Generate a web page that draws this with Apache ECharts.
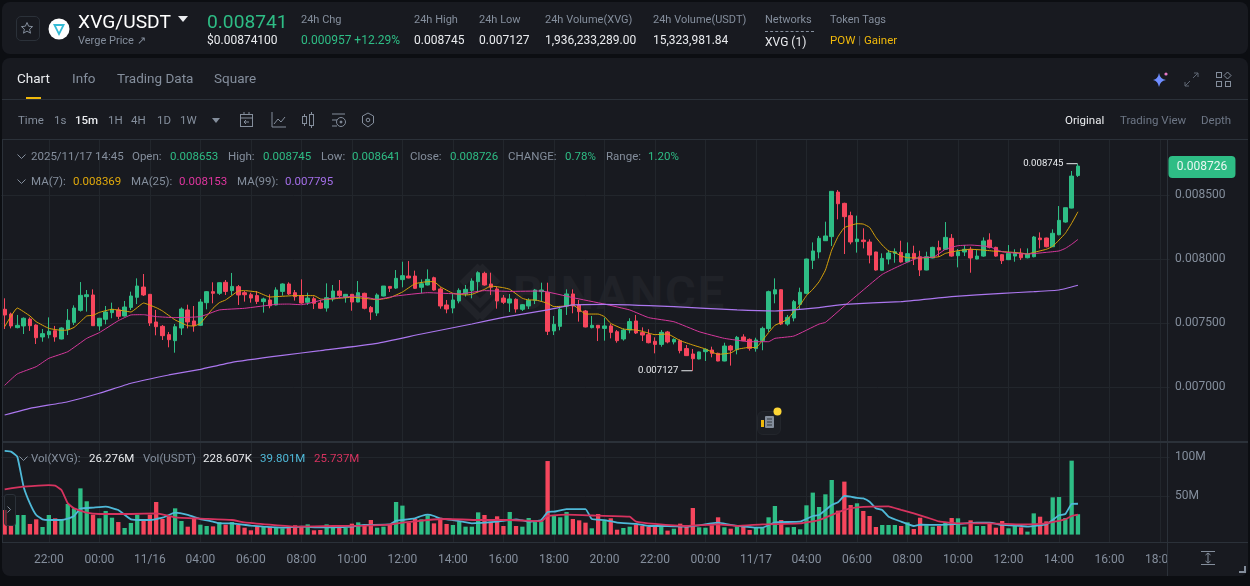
<!DOCTYPE html>
<html lang="en">
<head>
<meta charset="UTF-8">
<title>XVG/USDT</title>
<script src="https://cdn.jsdelivr.net/npm/echarts@6/dist/echarts.min.js"></script>
<style>
    html, body { margin: 0; padding: 0; width: 1250px; height: 586px; overflow: hidden; background: #0c0e12; font-family: Roboto, sans-serif; }
    .panel { position: absolute; background: #181a20; border-radius: 8px; }
    #main { position: absolute; left: 0; top: 0; width: 1250px; height: 586px; }
    .t { position: absolute; white-space: nowrap; transform: translateY(-50%); font-size: 12px; color: #eaecef; }
    .g { color: #848e9c; }
    .s { font-size: 11.5px; color: #5e6673; }
    .up { color: #2ebd85; }
    .tab { font-size: 13.5px; color: #848e9c; }
    .line { position: absolute; background: #2b3139; }
    svg { position: absolute; overflow: visible; }
</style>
</head>
<body>
<div class="panel" style="left:2px;top:2px;width:1246px;height:52px"></div>
<div class="panel" style="left:2px;top:58px;width:1246px;height:518px"></div>

<!-- watermark sits under the chart canvas -->
<svg style="left:450px;top:262px" width="60" height="60"><g fill="none" stroke="#212329" stroke-width="7"><path d="M30 4 L48 22 M30 4 L12 22 M4 30 L12 38 M56 30 L48 38 M30 56 L12 38 M30 56 L48 38"/><rect x="22" y="22" width="16" height="16" transform="rotate(45 30 30)"/></g></svg>
<div class="t" style="left:513px;top:292px;font-size:47px;font-weight:700;letter-spacing:2px;color:#202228">BINANCE</div>

<div id="main"></div>

<!-- header -->
<div style="position:absolute;left:16px;top:16px;width:22px;height:23px;border:1px solid #2b3139;border-radius:5px"></div>
<svg style="left:21px;top:22px" width="12" height="12"><path d="M6 0.5 L7.6 4.2 L11.6 4.6 L8.6 7.2 L9.5 11.2 L6 9.1 L2.5 11.2 L3.4 7.2 L0.4 4.6 L4.4 4.2 Z" fill="none" stroke="#848e9c"/></svg>
<svg style="left:48px;top:18px" width="22" height="22"><circle cx="11" cy="11" r="10.5" fill="#fff"/><path d="M5 6 H17 L11 18 Z M8 8 L11 14 L14 8 Z" fill="#35bcd6" fill-rule="evenodd"/></svg>
<div class="t" style="left:78px;top:21px;font-size:19.2px;color:#fff">XVG/USDT</div>
<svg style="left:178px;top:16px" width="10" height="6"><path d="M0 0 H10 L5 6 Z" fill="#eaecef"/></svg>
<div class="t g" style="left:78px;top:40px;font-size:11px">Verge Price ↗</div>
<div class="t up" style="left:207px;top:21px;font-size:19.2px">0.008741</div>
<div class="t" style="left:207px;top:40px">$0.00874100</div>
<div class="t s" style="left:301px;top:19px;color:#848e9c;font-size:11px">24h Chg</div>
<div class="t up" style="left:301px;top:40px">0.000957 +12.29%</div>
<div class="t s" style="left:414px;top:19px;color:#848e9c;font-size:11px">24h High</div>
<div class="t" style="left:414px;top:40px">0.008745</div>
<div class="t s" style="left:479px;top:19px;color:#848e9c;font-size:11px">24h Low</div>
<div class="t" style="left:479px;top:40px">0.007127</div>
<div class="t s" style="left:545px;top:19px;color:#848e9c;font-size:11px">24h Volume(XVG)</div>
<div class="t" style="left:545px;top:40px">1,936,233,289.00</div>
<div class="t s" style="left:653px;top:19px;color:#848e9c;font-size:11px">24h Volume(USDT)</div>
<div class="t" style="left:653px;top:40px">15,323,981.84</div>
<div class="t s" style="left:765px;top:19px;color:#848e9c;font-size:11px">Networks</div>
<div style="position:absolute;left:765px;top:31px;width:49px;border-top:1px dashed #848e9c"></div>
<div class="t" style="left:765px;top:42px">XVG (1)</div>
<div class="t s" style="left:830px;top:19px;color:#848e9c;font-size:11px">Token Tags</div>
<div class="t" style="left:830px;top:40px;color:#f0b90b;font-size:11.5px">POW <span style="color:#5e6673">|</span> Gainer</div>

<!-- tabs -->
<div class="t tab" style="left:17px;top:78px;color:#eaecef">Chart</div>
<div class="t tab" style="left:72px;top:78px">Info</div>
<div class="t tab" style="left:117px;top:78px">Trading Data</div>
<div class="t tab" style="left:214px;top:78px">Square</div>
<div style="position:absolute;left:26px;top:97px;width:15px;height:2px;background:#f0b90b"></div>
<div class="line" style="left:2px;top:99px;width:1246px;height:1px"></div>
<svg style="left:1153px;top:71px" width="16" height="16"><path d="M6 2 Q7 8 13 9 Q7 10 6 16 Q5 10 0 9 Q5 8 6 2 Z" fill="#6f8dff"/><circle cx="13" cy="3" r="1.6" fill="#e879c6"/></svg>
<svg style="left:1185px;top:73px" width="13" height="13"><path d="M8 5 L13 0 M9 0 H13 V4 M5 8 L0 13 M0 9 V13 H4" fill="none" stroke="#5e6673"/></svg>
<svg style="left:1216px;top:72px" width="15" height="15"><g fill="none" stroke="#848e9c"><rect x="0.5" y="0.5" width="5" height="5"/><path d="M11.5 0 L15 3.5 L11.5 7 L8 3.5 Z"/><rect x="0.5" y="9.5" width="5" height="5"/><rect x="9.5" y="9.5" width="5" height="5"/></g></svg>

<!-- toolbar -->
<div class="t g" style="left:18px;top:120px;font-size:11.5px">Time</div>
<div class="t g" style="left:54px;top:120px;font-size:11.5px">1s</div>
<div class="t" style="left:75px;top:120px;font-size:11.5px;font-weight:500">15m</div>
<div class="t g" style="left:108px;top:120px;font-size:11.5px">1H</div>
<div class="t g" style="left:131px;top:120px;font-size:11.5px">4H</div>
<div class="t g" style="left:157px;top:120px;font-size:11.5px">1D</div>
<div class="t g" style="left:180px;top:120px;font-size:11.5px">1W</div>
<svg style="left:212px;top:118px" width="8" height="5"><path d="M0 0 H8 L4 5 Z" fill="#848e9c"/></svg>
<svg style="left:240px;top:112px" width="145" height="16"><g fill="none" stroke="#848e9c"><rect x="0.5" y="2.5" width="12" height="12"/><path d="M0 6 H13 M4 0 V3 M9 0 V3 M9 10 H4 L6 8 M4 10 L6 12"/><path d="M32 0 V15 H46 M34 12 L38 7 L41 10 L45 5"/><rect x="62.5" y="4.5" width="4" height="7"/><rect x="69.5" y="2.5" width="4" height="11"/><path d="M64.5 2 V4 M64.5 12 V14 M71.5 0 V2 M71.5 14 V16"/><path d="M92 2 H105 M92 8 H97 M92 14 H97"/><circle cx="101" cy="10" r="4.5"/><circle cx="101" cy="10" r="1" fill="#848e9c"/><path d="M128 1 L133.5 4 V11 L128 15 L122.5 11 V4 Z"/><circle cx="128" cy="8" r="1.8"/></g></svg>
<div class="t" style="left:1065px;top:120px;font-size:11.5px">Original</div>
<div class="t s" style="left:1120px;top:120px;color:#6d7685">Trading View</div>
<div class="t s" style="left:1201px;top:120px;color:#6d7685">Depth</div>
<div class="line" style="left:2px;top:139px;width:1246px;height:1px"></div>

<!-- legends -->
<svg style="left:17px;top:154px" width="9" height="5"><path d="M0.5 0.5 L4.5 4.5 L8.5 0.5" fill="none" stroke="#848e9c"/></svg>
<div class="t g" style="left:31px;top:156px;font-size:11.5px">2025/11/17 14:45</div>
<div class="t g" style="left:132px;top:156px;font-size:11.5px">Open:</div>
<div class="t up" style="left:170px;top:156px;font-size:11.5px">0.008653</div>
<div class="t g" style="left:228px;top:156px;font-size:11.5px">High:</div>
<div class="t up" style="left:263px;top:156px;font-size:11.5px">0.008745</div>
<div class="t g" style="left:321px;top:156px;font-size:11.5px">Low:</div>
<div class="t up" style="left:352px;top:156px;font-size:11.5px">0.008641</div>
<div class="t g" style="left:410px;top:156px;font-size:11.5px">Close:</div>
<div class="t up" style="left:450px;top:156px;font-size:11.5px">0.008726</div>
<div class="t g" style="left:508px;top:156px;font-size:11.5px">CHANGE:</div>
<div class="t up" style="left:565px;top:156px;font-size:11.5px">0.78%</div>
<div class="t g" style="left:606px;top:156px;font-size:11.5px">Range:</div>
<div class="t up" style="left:648px;top:156px;font-size:11.5px">1.20%</div>
<svg style="left:17px;top:179px" width="9" height="5"><path d="M0.5 0.5 L4.5 4.5 L8.5 0.5" fill="none" stroke="#848e9c"/></svg>
<div class="t g" style="left:31px;top:181px;font-size:11.5px">MA(7):</div>
<div class="t" style="left:73px;top:181px;font-size:11.5px;color:#e0a90c">0.008369</div>
<div class="t g" style="left:131px;top:181px;font-size:11.5px">MA(25):</div>
<div class="t" style="left:179px;top:181px;font-size:11.5px;color:#e0359f">0.008153</div>
<div class="t g" style="left:237px;top:181px;font-size:11.5px">MA(99):</div>
<div class="t" style="left:285px;top:181px;font-size:11.5px;color:#a36ee8">0.007795</div>
<svg style="left:19px;top:456px" width="9" height="5"><path d="M0.5 0.5 L4.5 4.5 L8.5 0.5" fill="none" stroke="#848e9c"/></svg>
<div class="t g" style="left:31px;top:458px;font-size:11.5px">Vol(XVG):</div>
<div class="t" style="left:89px;top:458px;font-size:11.5px">26.276M</div>
<div class="t g" style="left:143px;top:458px;font-size:11.5px">Vol(USDT)</div>
<div class="t" style="left:203px;top:458px;font-size:11.5px">228.607K</div>
<div class="t" style="left:260px;top:458px;font-size:11.5px;color:#4fb9d8">39.801M</div>
<div class="t" style="left:314px;top:458px;font-size:11.5px;color:#d6335f">25.737M</div>

<!-- pane frames and small widgets -->
<div class="line" style="left:2px;top:140px;width:1px;height:403px"></div>
<div class="line" style="left:2px;top:441px;width:1246px;height:2px"></div>
<div class="line" style="left:2px;top:542px;width:1246px;height:1px"></div>
<div style="position:absolute;left:1168px;top:543px;width:80px;height:33px;background:#181a20;border-radius:0 0 8px 0"></div>
<div class="line" style="left:1167px;top:140px;width:1px;height:436px"></div>
<div style="position:absolute;left:4px;top:494px;width:10px;height:30px;border:1px solid #2b3139;border-radius:3px;background:rgba(24,26,32,.6)"></div>
<svg style="left:7px;top:506px" width="4" height="7"><path d="M0.5 0.5 L3.5 3.5 L0.5 6.5" fill="none" stroke="#848e9c"/></svg>
<svg style="left:1201px;top:551px" width="14" height="14"><path d="M0 0.5 H14 M0 13.5 H14 M7 2 V12 M4.5 4 L7 2 L9.5 4 M4.5 10 L7 12 L9.5 10" fill="none" stroke="#848e9c"/></svg>
<svg style="left:1238px;top:565px" width="8" height="8"><path d="M7 1 V7 H1" fill="none" stroke="#848e9c" stroke-width="2"/></svg>
<div style="position:absolute;left:757px;top:411px;width:22px;height:22px;border-radius:6px;border:1px solid #23262c;background:#1c1f25"></div>
<svg style="left:761px;top:415px" width="14" height="14"><rect x="4" y="1" width="9" height="12" rx="1" fill="#848e9c"/><path d="M6 4 H11 M6 7 H11 M6 10 H11" stroke="#33383f"/><rect x="0" y="5" width="3" height="7" fill="#f0b90b"/></svg>
<svg style="left:773px;top:407px" width="9" height="9"><circle cx="4.5" cy="4.5" r="4" fill="#fcd535"/></svg>

<script>
    // candles, 15m bars from 11/15 20:15 to 11/17 14:45, prices in millionths of a USDT
    const opens = [
        7607,7570,7464,7477,7531,7484,7391,7409,7440,7375,
        7451,7505,7599,7706,7719,7477,7529,7581,7602,7555,
        7622,7701,7781,7724,7508,7474,7409,7362,7461,7602,
        7516,7482,7659,7745,7732,7818,7753,7784,7737,7721,
        7714,7667,7680,7641,7747,7805,7737,7714,7662,7690,
        7656,7617,7688,7750,7701,7724,7664,7732,7622,7578,
        7711,7786,7773,7839,7867,7867,7779,7797,7854,7766,
        7641,7617,7672,7727,7755,7823,7888,7805,7766,7695,
        7656,7685,7607,7633,7677,7745,7740,7438,7474,7633,
        7727,7641,7594,7464,7482,7458,7477,7432,7375,7445,
        7516,7425,7409,7357,7333,7430,7352,7362,7300,7258,
        7219,7276,7289,7263,7203,7320,7292,7391,7372,7300,
        7362,7456,7727,7760,7492,7539,7646,7732,7990,8055,
        8143,8175,8523,8435,8339,8136,8148,8133,8055,7912,
        8000,8044,8052,7979,8044,8018,7914,8008,8089,8076,
        8162,8026,8055,8076,8000,8023,8148,8091,8034,7995,
        8023,8044,8010,8018,8164,8164,8096,8190,8289,8398,
        8653
    ];
    const highs = [
        7693,7581,7563,7544,7544,7490,7453,7544,7477,7466,
        7609,7638,7820,7758,7763,7537,7633,7659,7622,7672,
        7745,7849,7883,7727,7602,7484,7430,7492,7622,7643,
        7633,7688,7750,7818,7818,7836,7891,7797,7750,7737,
        7750,7698,7724,7779,7810,7818,7758,7841,7737,7706,
        7680,7810,7797,7836,7727,7727,7828,7737,7633,7732,
        7789,7789,7914,7979,7984,7909,7841,7919,7862,7779,
        7680,7732,7771,7797,7849,7904,7901,7893,7784,7719,
        7727,7693,7648,7693,7766,7815,7815,7555,7628,7763,
        7763,7680,7602,7555,7484,7542,7492,7445,7458,7537,
        7563,7466,7451,7388,7445,7438,7380,7372,7328,7297,
        7276,7302,7315,7268,7346,7328,7399,7412,7380,7385,
        7471,7753,7849,7763,7563,7680,7776,8003,8130,8180,
        8292,8531,8539,8440,8370,8339,8240,8154,8057,8044,
        8070,8083,8143,8130,8104,8065,8057,8096,8143,8289,
        8195,8078,8109,8096,8070,8169,8201,8096,8039,8109,
        8076,8083,8083,8180,8208,8167,8232,8414,8401,8688,
        8745
    ];
    const lows = [
        7453,7458,7458,7414,7438,7336,7354,7380,7354,7372,
        7406,7484,7589,7589,7477,7440,7490,7537,7529,7550,
        7602,7648,7711,7477,7404,7367,7310,7268,7406,7458,
        7432,7477,7607,7654,7719,7719,7719,7641,7667,7659,
        7648,7581,7615,7638,7714,7719,7675,7651,7641,7609,
        7609,7589,7669,7693,7659,7596,7662,7607,7524,7555,
        7708,7742,7766,7779,7849,7766,7732,7794,7753,7612,
        7576,7576,7654,7706,7693,7745,7792,7719,7612,7648,
        7586,7581,7594,7609,7648,7667,7406,7406,7443,7563,
        7576,7511,7466,7458,7359,7362,7380,7346,7362,7419,
        7414,7359,7341,7263,7315,7341,7333,7263,7242,7127,
        7216,7203,7232,7201,7201,7167,7255,7362,7284,7276,
        7287,7430,7654,7484,7479,7513,7602,7724,7922,8005,
        8141,8102,8310,8039,8115,8050,8083,7966,7909,7909,
        7958,7971,7971,7974,7953,7867,7912,8005,8018,8070,
        8018,7935,8023,7893,7997,8018,8083,8018,7961,7992,
        7979,7992,8005,8013,8083,8091,8094,8185,8284,8396,
        8641
    ];
    const closes = [
        7563,7477,7482,7537,7479,7385,7417,7435,7391,7461,
        7521,7617,7716,7721,7479,7537,7586,7607,7552,7625,
        7711,7789,7719,7500,7471,7401,7370,7471,7609,7508,
        7479,7664,7745,7732,7815,7747,7786,7719,7721,7695,
        7669,7688,7635,7758,7805,7727,7706,7656,7695,7654,
        7615,7698,7750,7714,7724,7664,7737,7615,7586,7719,
        7789,7771,7849,7870,7852,7771,7807,7841,7758,7633,
        7609,7680,7755,7763,7828,7893,7797,7779,7672,7662,
        7688,7609,7643,7677,7758,7758,7435,7490,7607,7727,
        7633,7589,7469,7482,7461,7477,7427,7362,7445,7511,
        7422,7406,7346,7333,7427,7352,7372,7284,7245,7221,
        7274,7294,7263,7203,7320,7289,7388,7362,7302,7367,
        7458,7745,7760,7492,7544,7667,7740,8000,8063,8162,
        8180,8529,8432,8331,8133,8156,8136,8031,7914,8005,
        8047,8057,7977,8042,8003,7914,8018,8091,8070,8169,
        8023,8057,8076,8008,8023,8141,8091,8023,7987,8044,
        8044,8010,8039,8172,8151,8096,8201,8302,8401,8648,
        8726
    ];
    // volume in millions of XVG
    const volumes = [
        31.7,11.5,25.3,25.3,13.7,19.7,9.8,25.3,21,18.8,
        39.5,33.9,59.7,43,25.7,21,30.5,21.8,16.2,8.5,
        15,25.7,18.8,25.7,42.1,20.1,23.6,33.9,17.5,10.2,
        21.8,12.8,11.1,10.6,16.2,12.8,16.2,12.4,8.9,5.5,
        10.6,11.1,10.2,8.9,8.1,9.4,12,10.2,13.2,5.5,
        5.9,13.2,9.4,12,8.9,14.1,15.8,12.8,18.8,8.9,
        10.2,13.2,42.1,37.4,15.4,20.1,19.7,24.9,14.5,21.8,
        13.7,12.4,17.1,10.2,10.2,28.7,25.3,16.7,23.6,11.1,
        29.2,11.1,10.2,21.4,16.2,17.1,95,24,22.3,29.2,
        20.1,18.4,15.4,8.1,26.6,17.5,21,6.3,8.5,10.2,
        12.8,11.1,10.2,11.1,10.2,5.1,7.6,14.1,10.2,34.3,
        9.4,8.9,12,22.3,9.4,7.6,10.6,9.8,5.9,9.8,
        8.5,22.3,36.9,18.8,9.4,9.8,6.8,37.8,54.2,35.6,
        52,70.5,30.9,68.4,38.2,40.4,30.5,24,9.8,12.4,
        12.4,12.4,11.1,15.8,7.2,21.8,12,10.2,11.1,16.2,
        21.4,21,10.2,18.4,11.1,11.1,13.7,8.9,17.5,8.1,
        11.1,9.4,3.8,27.4,23.1,17.1,48.1,48.5,21.4,95.5,
        26.276
    ];

    // moving average lines, read at the bar positions in the *Bars arrays
    const ma7Bars = [0,2,4,5,7,9,10,11,12,13,14,15,17,19,20,22,24,25,27,29,30,31,33,34,35,37,38,40,42,43,46,49,50,51,53,55,57,59,61,63,65,67,68,69,71,73,74,76,77,79,80,82,83,84,86,87,89,90,91,92,94,95,96,98,100,101,103,105,107,109,111,113,115,116,118,119,120,121,122,123,124,125,126,127,128,129,130,131,132,133,134,135,136,137,138,139,140,141,142,143,145,147,148,149,151,153,155,157,159,161,162,163,165,166,167,168,169,170];
    const ma7 = [7471,7617,7555,7510,7458,7443,7445,7466,7510,7555,7560,7583,7607,7594,7586,7656,7620,7594,7524,7479,7477,7497,7615,7659,7680,7750,7753,7742,7703,7706,7714,7714,7688,7685,7693,7701,7693,7682,7698,7742,7807,7823,7823,7784,7732,7719,7724,7763,7789,7776,7763,7693,7680,7680,7654,7628,7633,7641,7607,7570,7570,7550,7497,7453,7445,7435,7409,7414,7362,7328,7297,7255,7266,7294,7310,7307,7362,7425,7482,7503,7529,7589,7641,7714,7763,7823,7914,8070,8175,8245,8263,8276,8273,8247,8169,8109,8063,8052,8023,8010,8008,8013,8018,8044,8065,8076,8070,8060,8055,8047,8039,8052,8076,8099,8148,8201,8279,8369];
    const ma25Bars = [0,2,5,7,10,13,15,18,20,22,24,27,31,34,38,43,45,47,51,56,59,62,67,72,76,80,85,90,95,99,102,106,110,114,118,121,122,125,129,130,133,136,139,142,145,147,149,151,153,156,158,162,165,167,168,169,170];
    const ma25 = [7013,7102,7159,7224,7276,7380,7425,7518,7563,7565,7550,7542,7550,7602,7615,7646,7648,7643,7688,7711,7685,7711,7737,7727,7753,7747,7750,7698,7648,7602,7542,7510,7432,7380,7354,7354,7380,7398,7492,7505,7633,7758,7880,7953,8013,8013,8076,8104,8109,8096,8057,8039,8052,8063,8083,8115,8153];
    const ma99Bars = [0,4,10,15,20,26,31,36,44,50,59,66,74,79,86,90,95,106,116,122,129,133,142,150,158,163,167,170];
    const ma99 = [6781,6833,6885,6951,7029,7094,7138,7193,7247,7284,7341,7414,7492,7544,7602,7641,7646,7628,7602,7594,7620,7646,7667,7706,7732,7745,7758,7795];

    const volFastBars = [0,1,2,3,4,5,6,7,9,10,11,12,14,16,18,20,22,23,25,27,29,31,33,34,36,39,41,44,47,50,52,55,57,61,62,63,65,66,67,68,69,71,74,78,81,83,85,86,87,89,92,93,95,97,100,102,105,108,110,113,115,119,120,122,126,128,129,131,132,133,134,135,136,137,138,139,140,142,144,145,148,151,154,156,158,161,162,165,166,167,168,169,170];
    const volFast = [108,107.1,100.7,61.9,40.4,25.3,19.7,18.8,18.8,20.6,24,33.5,34.8,36.1,31.8,19.7,18.8,18.8,21.8,28.3,25.3,20.1,16.7,14.5,14.5,11.5,10.2,8.9,10.2,9.4,9.4,10.2,12.4,13.2,18,18.8,21,24,25.7,24,20.6,18.8,14.5,16.7,19.7,16.7,18.8,29.2,29.6,33,33,20.1,18.8,15.4,13.7,11.1,11.1,10.2,12,15.4,12.4,8.9,8.9,15.8,16.7,24,25.3,38.2,41.7,49.8,49,47.3,46.8,42.5,33.9,31.8,23.1,16.7,11.1,12.8,12.4,13.7,15.4,15.4,12.4,11.1,10.2,13.2,18.8,24.9,26.6,39.5,39.801];
    const volSlowBars = [0,3,7,8,9,10,11,13,15,20,24,27,31,36,38,42,46,52,57,61,63,67,70,75,80,85,86,89,94,99,100,103,108,113,116,120,126,129,131,133,135,140,142,144,146,148,151,156,161,165,168,169,170];
    const volSlow = [58.5,61.9,64,63.2,57.6,40.4,33.9,28.3,26.6,26.6,27.4,22.3,20.6,18.8,15.8,12.8,10.2,11.1,11.5,12.8,15.4,18.8,20.1,18.8,18.8,17.1,24,25.7,24.4,23.1,16.7,13.7,11.1,13.2,11.1,13.2,14.5,18.8,25.3,31.8,35.2,36.5,31.8,27.4,22.3,16.9,14.5,14.5,13.2,14.5,19.7,24,25.737];

    // x axis labels every 2 hours, first one on bar 7, and the blank bars after the last candle
    const tickLabels = ['22:00','00:00','11/16','04:00','06:00','08:00','10:00','12:00','14:00','16:00','18:00','20:00','22:00','00:00','11/17','04:00','06:00','08:00','10:00','12:00','14:00','16:00','18:00'];
    const firstTickBar = 7, barsPerTick = 8, barCount = 185;
    const priceTicks = [7000, 7500, 8000, 8500];
    const volumeTicks = [50, 100];

    const GREEN = '#2ebd85', RED = '#f6465d', GREY = '#848e9c', GRID = '#22262c';
    const isTick = i => i >= firstTickBar && (i - firstTickBar) % barsPerTick === 0;
    const categories = [];
    for (let i = 0; i < barCount; i++) {
        categories.push(isTick(i) ? tickLabels[(i - firstTickBar) / barsPerTick] : '');
    }
    const formatPrice = v => (v / 1e6).toFixed(6);
    const pairs = (bars, vals) => bars.map((b, k) => [b, vals[k]]);

    function xAxis(gridIndex, withLabels) {
        return {
            type: 'category', gridIndex: gridIndex, data: categories,
            axisLine: { show: false }, axisTick: { show: false },
            axisLabel: { show: withLabels, interval: 0, hideOverlap: false, color: GREY, fontSize: 12, margin: 12 },
            splitLine: { show: true, alignWithLabel: true, interval: i => isTick(i), lineStyle: { color: GRID } }
        };
    }
    function yAxis(gridIndex, min, max, ticks, formatter) {
        return {
            type: 'value', gridIndex: gridIndex, position: 'right', min: min, max: max, scale: true,
            axisLine: { show: false },
            axisTick: { show: false, customValues: ticks },
            axisLabel: { customValues: ticks, formatter: formatter, color: GREY, fontSize: 12, margin: 5.5, padding: [2, 0, 0, 0] },
            splitLine: { show: true, lineStyle: { color: GRID } }
        };
    }
    function maLine(name, data, color, xIndex, width) {
        return {
            name: name, type: 'line', xAxisIndex: xIndex, yAxisIndex: xIndex, data: data,
            showSymbol: false, smooth: 0.12, silent: true, z: 4,
            lineStyle: { color: color, width: width }
        };
    }

    const lastBar = closes.length - 1;
    const lowBar = lows.indexOf(Math.min(...lows));
    const highBar = highs.indexOf(Math.max(...highs));
    const extremeLabel = {
        show: true, position: 'left', distance: 3, color: '#eaecef', fontSize: 9.6,
        formatter: p => formatPrice(p.value)
    };

    const chart = echarts.init(document.getElementById('main'), null, { renderer: 'canvas' });
    chart.setOption({
        animation: false,
        backgroundColor: 'transparent',
        textStyle: { fontFamily: 'Roboto, sans-serif' },
        grid: [
            { left: 1.5, top: 140, width: 1168, height: 301 },
            { left: 1.5, top: 443, width: 1168, height: 99 }
        ],
        xAxis: [xAxis(0, false), xAxis(1, true)],
        yAxis: [
            yAxis(0, 6578, 8930, priceTicks, formatPrice),
            yAxis(1, -9.6, 118.3, volumeTicks, v => v + 'M')
        ],
        series: [
            {
                name: 'XVG/USDT', type: 'candlestick', xAxisIndex: 0, yAxisIndex: 0, barWidth: 4, z: 3,
                data: opens.map((o, i) => [o, closes[i], lows[i], highs[i]]),
                itemStyle: { color: GREEN, color0: RED, borderColor: GREEN, borderColor0: RED, borderWidth: 1 },
                markPoint: {
                    silent: true, animation: false,
                    data: [
                        { coord: [highBar, highs[highBar]], value: highs[highBar], symbol: 'rect', symbolSize: [11, 1], symbolOffset: [-6, 0], itemStyle: { color: '#eaecef' }, label: extremeLabel },
                        { coord: [lowBar, lows[lowBar]], value: lows[lowBar], symbol: 'rect', symbolSize: [11, 1], symbolOffset: [-6, 0], itemStyle: { color: '#eaecef' }, label: extremeLabel },
                        { coord: [lastBar, closes[lastBar]], value: closes[lastBar], symbol: 'path://M4 0H63Q67 0 67 4V18Q67 22 63 22H4Q0 22 0 18V4Q0 0 4 0Z', symbolKeepAspect: false, symbolSize: [67, 22], symbolOffset: [124, 1], itemStyle: { color: GREEN },
                          label: { show: true, position: 'inside', color: '#eaf7f2', fontSize: 12, formatter: p => formatPrice(p.value) } }
                    ]
                }
            },
            maLine('MA(7)', pairs(ma7Bars, ma7), '#d9a40b', 0, 1),
            maLine('MA(25)', pairs(ma25Bars, ma25), '#d6389c', 0, 1),
            maLine('MA(99)', pairs(ma99Bars, ma99), '#ab76ee', 0, 1.2),
            {
                name: 'Vol(XVG)', type: 'bar', xAxisIndex: 1, yAxisIndex: 1, barWidth: 4.3, z: 3,
                data: volumes.map((v, i) => ({ value: v, itemStyle: { color: closes[i] >= opens[i] ? GREEN : RED } }))
            },
            maLine('Vol MA fast', pairs(volFastBars, volFast), '#4fb9d8', 1, 1.8),
            maLine('Vol MA slow', pairs(volSlowBars, volSlow), '#d6335f', 1, 1.8)
        ]
    });
</script>
</body>
</html>
